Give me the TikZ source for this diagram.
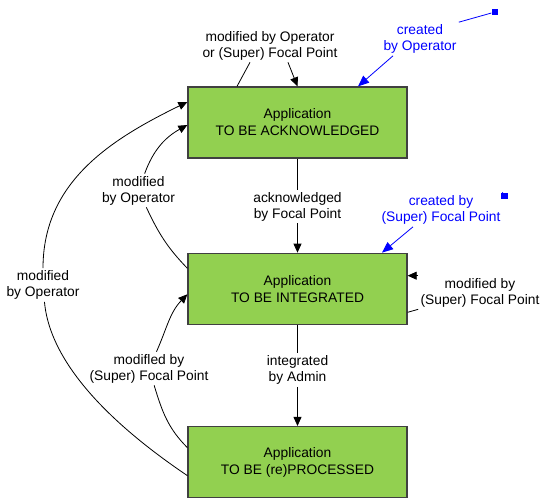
\documentclass[tikz,border=0pt]{standalone}
\usepackage{fontspec}
\setmainfont{Liberation Sans}
\usetikzlibrary{positioning,arrows.meta}
\definecolor{stategreen}{RGB}{146,208,80}
\definecolor{framegray}{RGB}{64,64,64}

\begin{document}
\begin{tikzpicture}[x=1pt, y=-1pt, line width=0.8pt,
font=\fontsize{13.8}{16}\selectfont,
statenode/.style={rectangle, draw=framegray, fill=stategreen, line width=1.3pt, minimum width=219pt, minimum height=71pt, align=center, font=\fontsize{13.8}{17}\selectfont},
labelnode/.style={align=center, inner sep=2pt},
bluelabel/.style={labelnode, text=blue},
handle/.style={rectangle, fill=blue, minimum size=6.5pt, inner sep=0pt},
arr/.style={-{Triangle[length=9pt, width=8pt]}},
bluearr/.style={blue, -{Triangle[length=11pt, width=9pt]}},
]
\useasboundingbox (0,0) rectangle (541,498);
%Nodes
\node[statenode]      (ack)      at (297.5,122.5)        {Application\\TO BE ACKNOWLEDGED};
\node[statenode]      (integ)    [below=94pt of ack]     {Application\\TO BE INTEGRATED};
\node[statenode]      (proc)     [below=101pt of integ]  {Application\\TO BE (re)PROCESSED};

\node[labelnode]      (toplbl)   at (270,45.5)    {modified by Operator\\or (Super) Focal Point};
\node[labelnode]      (acklbl)   at (297.5,206.5) {acknowledged\\by Focal Point};
\node[labelnode]      (intlbl)   at (297.5,370)   {integrated\\by Admin};
\node[labelnode]      (rightlbl) at (480,292.5)   {modified by\\(Super) Focal Point};
\node[labelnode]      (oplbl)    at (138.5,190.5) {modified\\by Operator};
\node[labelnode]      (outlbl)   at (43,285)      {modified\\by Operator};
\node[labelnode]      (fplbl)    at (149,368.5)   {modifled by\\(Super) Focal Point};
\node[bluelabel]      (crop)     at (420,39)      {created\\by Operator};
\node[bluelabel]      (crfp)     at (441,210)     {created by\\(Super) Focal Point};
\node[handle]         (opend)    at (495,12)      {};
\node[handle]         (fpend)    at (504.5,196)   {};

%Lines
\draw ([xshift=-60.5pt]ack.north) -- ([xshift=-20pt]toplbl.south);
\draw[arr] ([xshift=18pt]toplbl.south) -- (ack.north);
\draw[blue] (opend) -- (crop.north east);
\draw[bluearr] ([xshift=-27pt]crop.south) -- ([xshift=60.5pt]ack.north);
\draw (ack) -- (acklbl);
\draw[arr] (acklbl) -- (integ);
\draw (integ) -- (intlbl);
\draw[arr] (intlbl) -- (proc);
\draw[blue] (fpend) -- (crfp.north east);
\draw[bluearr] ([xshift=-28pt]crfp.south) -- ([xshift=84.5pt]integ.north);
\draw ([yshift=-23.5pt]integ.east) -- (rightlbl.south west);
\draw[arr] (rightlbl.north west) -- (rightlbl.north west -| integ.east);

%Curves on the left
\draw[arr] ([yshift=20.5pt]integ.west) to[out=134, in=-65] (oplbl)
  (oplbl) to[out=70, in=209] ([yshift=-2.5pt]ack.west);
\draw[arr] ([yshift=-13.5pt]proc.west) to[out=146, in=-85, looseness=0.8] (outlbl)
  (outlbl) to[out=90, in=206] ([yshift=20.5pt]ack.west);
\draw[arr] ([yshift=14.5pt]proc.west) to[out=135, in=-73] (fplbl)
  (fplbl) to[out=66, in=226] ([yshift=-5.5pt]integ.west);
\end{tikzpicture}
\end{document}
